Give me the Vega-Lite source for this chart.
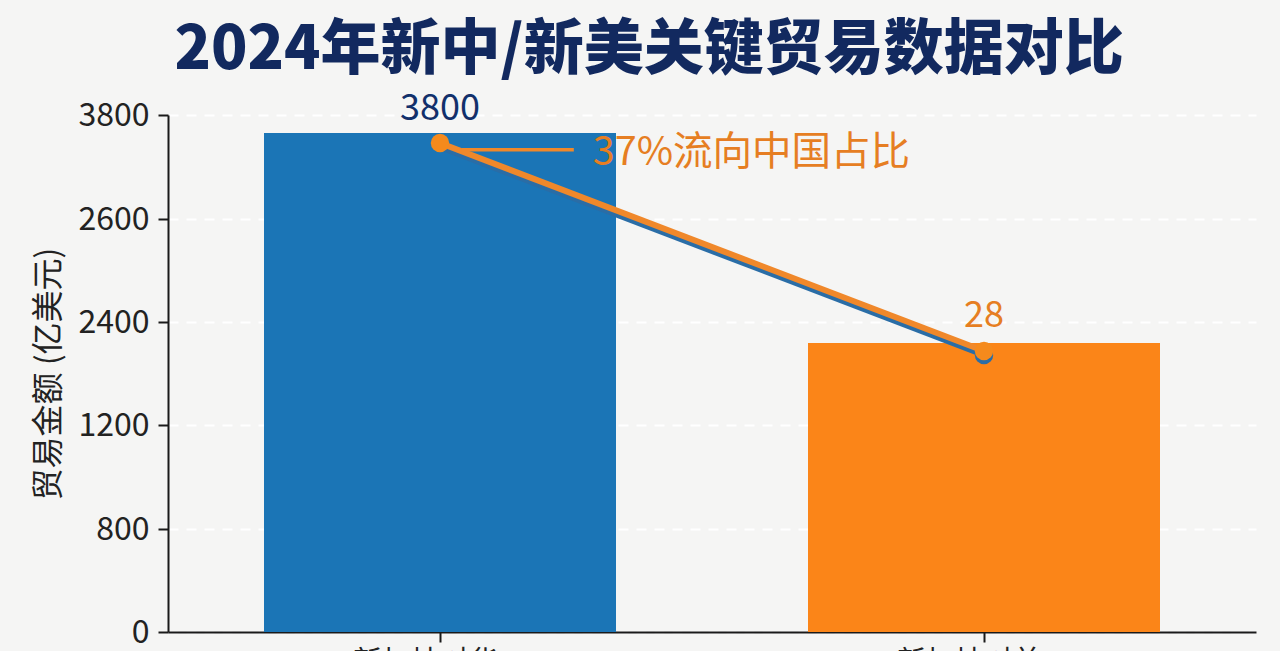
{
  "$schema": "https://vega.github.io/schema/vega-lite/v6.json",
  "width": 1088,
  "height": 517,
  "autosize": "none",
  "padding": {"left": 168, "top": 115, "right": 24, "bottom": 19},
  "background": "#f5f5f4",
  "title": {
    "text": "2024年新中/新美关键贸易数据对比",
    "font": "Noto Sans CJK SC",
    "fontSize": 60,
    "fontWeight": 900,
    "color": "#12295f",
    "anchor": "middle",
    "dx": -63,
    "offset": 9
  },
  "config": {
    "font": "Noto Sans CJK SC",
    "view": {"stroke": null}
  },
  "datasets": {
    "bars": [
      {"item": "新加坡对华出口", "amount": 3592, "color": "#1b75b6"},
      {"item": "新加坡对美逆差", "amount": 2155, "color": "#fb8518"}
    ],
    "trend": [
      {"pos": 0.5, "orange": 3477, "blue": 3431, "label": "3800", "labelValue": 3870},
      {"pos": 1.5, "orange": 2062, "blue": 2015, "label": "28", "labelValue": 2412}
    ],
    "leader": [
      {"pos": 0.54, "amount": 3400},
      {"pos": 0.746, "amount": 3400}
    ],
    "note": [
      {"pos": 0.781, "amount": 3365, "text": "37%流向中国占比"}
    ]
  },
  "encoding": {
    "y": {
      "field": "amount",
      "type": "quantitative",
      "title": "贸易金额 (亿美元)",
      "scale": {
        "domain": [0, 800, 1200, 2400, 2600, 3800],
        "range": [517, 414, 310, 207, 104, 0]
      },
      "axis": {
        "values": [0, 800, 1200, 2400, 2600, 3800],
        "format": "d",
        "grid": true,
        "gridColor": "#ffffff",
        "gridWidth": 2,
        "gridDash": [10, 8],
        "domainColor": "#1a1a1a",
        "domainWidth": 2,
        "tickColor": "#1a1a1a",
        "tickWidth": 2,
        "tickSize": 10,
        "labelFontSize": 32,
        "labelColor": "#222222",
        "labelPadding": 9,
        "titleFontSize": 32,
        "titleFontWeight": "normal",
        "titleColor": "#222222",
        "titlePadding": 12
      }
    }
  },
  "layer": [
    {
      "data": {"name": "bars"},
      "mark": {"type": "bar", "width": 352},
      "encoding": {
        "x": {
          "field": "item",
          "type": "nominal",
          "sort": null,
          "title": null,
          "scale": {"paddingInner": 0, "paddingOuter": 0},
          "axis": {
            "labelAngle": 0,
            "labelFontSize": 29,
            "labelColor": "#222222",
            "labelPadding": 6,
            "labelBaseline": "top",
            "domainColor": "#1a1a1a",
            "domainWidth": 2,
            "tickColor": "#1a1a1a",
            "tickWidth": 2,
            "tickSize": 10
          }
        },
        "color": {"field": "color", "type": "nominal", "scale": null}
      }
    },
    {
      "data": {"name": "trend"},
      "mark": {"type": "line", "color": "#2a6da6", "strokeWidth": 6},
      "encoding": {
        "x": {"field": "pos", "type": "quantitative", "axis": null, "scale": {"domain": [0, 2]}},
        "y": {"field": "blue", "type": "quantitative"}
      }
    },
    {
      "data": {"name": "trend"},
      "transform": [{"filter": "datum.pos > 1"}],
      "mark": {"type": "point", "filled": true, "color": "#2a6da6", "size": 340, "opacity": 1},
      "encoding": {
        "x": {"field": "pos", "type": "quantitative", "axis": null, "scale": {"domain": [0, 2]}},
        "y": {"field": "blue", "type": "quantitative"}
      }
    },
    {
      "data": {"name": "trend"},
      "mark": {"type": "line", "color": "#f0882a", "strokeWidth": 6, "point": {"filled": true, "color": "#f58a1c", "size": 340, "opacity": 1}},
      "encoding": {
        "x": {"field": "pos", "type": "quantitative", "axis": null, "scale": {"domain": [0, 2]}},
        "y": {"field": "orange", "type": "quantitative"}
      }
    },
    {
      "data": {"name": "leader"},
      "mark": {"type": "line", "color": "#f0882a", "strokeWidth": 3.5},
      "encoding": {
        "x": {"field": "pos", "type": "quantitative", "axis": null, "scale": {"domain": [0, 2]}},
        "y": {"field": "amount", "type": "quantitative"}
      }
    },
    {
      "data": {"name": "trend"},
      "mark": {"type": "text", "fontSize": 36, "align": "center", "baseline": "middle"},
      "encoding": {
        "x": {"field": "pos", "type": "quantitative", "axis": null, "scale": {"domain": [0, 2]}},
        "y": {"field": "labelValue", "type": "quantitative"},
        "text": {"field": "label"},
        "color": {"field": "label", "type": "nominal", "scale": {"domain": ["3800", "28"], "range": ["#12306b", "#e67e22"]}, "legend": null}
      }
    },
    {
      "data": {"name": "note"},
      "mark": {"type": "text", "fontSize": 39.5, "align": "left", "baseline": "middle", "color": "#e67e22"},
      "encoding": {
        "x": {"field": "pos", "type": "quantitative", "axis": null, "scale": {"domain": [0, 2]}},
        "y": {"field": "amount", "type": "quantitative"},
        "text": {"field": "text"}
      }
    }
  ],
  "resolve": {"scale": {"x": "independent"}}
}
